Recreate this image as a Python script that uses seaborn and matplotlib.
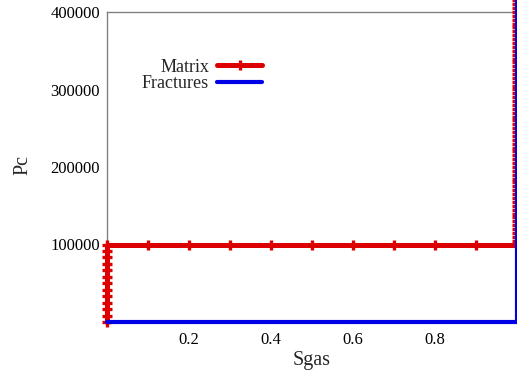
import matplotlib
matplotlib.use("Agg")
import matplotlib.pyplot as plt
import seaborn as sns
import pandas as pd

# Capillary pressure curves: matrix and fractures
matrix_sgas = [0.0] * 13 + [0.1, 0.2, 0.3, 0.4, 0.5, 0.6, 0.7, 0.8, 0.9] + [1.0] * 64
matrix_pc = (
    [0, 8300, 16700, 25000, 33300, 41700, 50000, 58300, 66700, 75000, 83300, 91700, 100000]
    + [100000] * 9
    + [100000, 105000, 110000, 115000, 120000, 125000, 130000, 135000, 140000, 145000,
       150000, 155000, 160000, 165000, 170000, 175000, 180000, 185000, 190000, 195000,
       200000, 205000, 210000, 215000, 220000, 225000, 230000, 235000, 240000, 245000,
       250000, 255000, 260000, 265000, 270000, 275000, 280000, 285000, 290000, 295000,
       300000, 305000, 310000, 315000, 320000, 325000, 330000, 335000, 340000, 345000,
       350000, 355000, 360000, 365000, 370000, 375000, 380000, 385000, 390000, 395000,
       400000, 405000, 410000, 415000]
)
fracture_sgas = [0.0, 1.0, 1.0]
fracture_pc = [0, 0, 430000]

x_ticks = [0.2, 0.4, 0.6, 0.8]
y_ticks = [100000, 200000, 300000, 400000]

matrix = pd.DataFrame({"Sgas": matrix_sgas, "Pc": matrix_pc})
fractures = pd.DataFrame({"Sgas": fracture_sgas, "Pc": fracture_pc})

sns.set_style("white")
plt.rcParams["font.family"] = ["Liberation Serif", "DejaVu Serif"]

fig = plt.figure(figsize=(5.17, 3.72), dpi=100)
ax = fig.add_axes([107 / 517, 50 / 372, 410 / 517, 310 / 372])

red = "#dd0000"
blue = "#0000e6"

sns.lineplot(data=matrix, x="Sgas", y="Pc", sort=False, estimator=None, ax=ax,
             color=red, linewidth=3.6, marker="+", markersize=7, markeredgewidth=2.4,
             markeredgecolor=red, label="Matrix", clip_on=False, zorder=3)
sns.lineplot(data=fractures, x="Sgas", y="Pc", sort=False, estimator=None, ax=ax,
             color=blue, linewidth=3.0, label="Fractures", clip_on=False, zorder=4)

ax.set_xlim(0, 1)
ax.set_ylim(0, 400000)
ax.set_xticks(x_ticks)
ax.set_xticklabels([f"{t:.1f}" for t in x_ticks])
ax.set_yticks(y_ticks)
ax.set_yticklabels([str(t) for t in y_ticks])
ax.tick_params(direction="in", length=4, width=0.8, color="#808080",
               labelsize=12, pad=5, labelcolor="black")
ax.tick_params(axis="x", pad=7)

for side in ["left", "top", "bottom"]:
    ax.spines[side].set_color("#808080")
    ax.spines[side].set_linewidth(1.0)
ax.spines["right"].set_visible(False)

ax.set_xlabel("Sgas", fontsize=14.5, labelpad=2)
ax.set_ylabel("Pc", fontsize=14.5)
ax.yaxis.set_label_coords(-0.183, 0.506)

leg = ax.legend(loc="upper left", bbox_to_anchor=(0.085, 0.85), frameon=False,
                markerfirst=False, fontsize=13, handlelength=2.5,
                labelspacing=0.0, handletextpad=0.45, borderaxespad=0, borderpad=0)
leg._legend_handle_box.get_children()[0].align = "right"

fig.savefig("out.png", dpi=100)
